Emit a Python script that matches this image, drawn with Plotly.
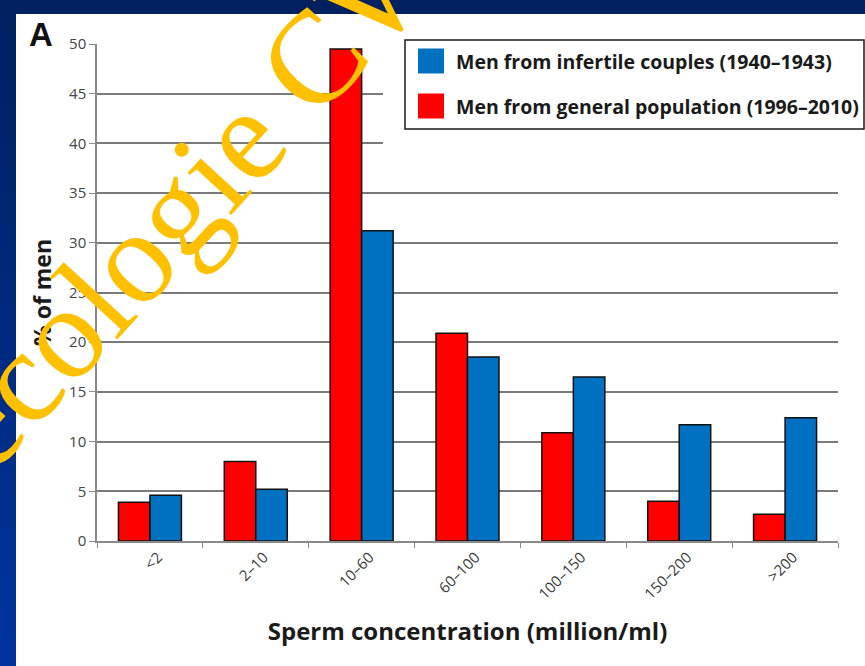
import plotly.graph_objects as go

# Sperm concentration classes (million/ml)
categories = ["<2", "2–10", "10–60", "60–100", "100–150", "150–200", ">200"]
# % of men in each class
general_population = [3.9, 8.0, 49.5, 20.9, 10.9, 4.0, 2.7]   # 1996–2010
infertile_couples = [4.6, 5.2, 31.2, 18.5, 16.5, 11.7, 12.4]   # 1940–1943
y_ticks = [0, 5, 10, 15, 20, 25, 30, 35, 40, 45, 50]

name_general = "Men from general population (1996–2010)"
name_infertile = "Men from infertile couples (1940–1943)"

RED = "#ff0000"
BLUE = "#0070c0"
FONT = "Open Sans"
W, H = 865, 666
ML, MR, MT, MB = 97, 27, 44, 125
PW, PH = W - ML - MR, H - MT - MB


def px(x):
    """page x (pixels) -> paper fraction"""
    return (x - ML) / PW


def py(y):
    """page y (pixels, from top) -> paper fraction"""
    return 1 - (y - MT) / PH


fig = go.Figure()
fig.add_trace(go.Bar(x=categories, y=general_population, name=name_general,
                     marker=dict(color=RED, line=dict(color="#111111", width=1.5))))
fig.add_trace(go.Bar(x=categories, y=infertile_couples, name=name_infertile,
                     marker=dict(color=BLUE, line=dict(color="#111111", width=1.5))))

shapes = []
# navy slide frame: dark top band, left band shading to brighter blue
n_bands = 24
c0, c1 = (0, 32, 96), (0, 52, 156)
for i in range(n_bands):
    t = i / (n_bands - 1)
    col = "rgb({},{},{})".format(*[round(a + (b - a) * t) for a, b in zip(c0, c1)])
    y0 = i * H / n_bands
    shapes.append(dict(type="rect", xref="paper", yref="paper", layer="below",
                       x0=px(-2), x1=px(17), y0=py(y0 - 1), y1=py(y0 + H / n_bands + 1),
                       fillcolor=col, line=dict(width=0)))
shapes.append(dict(type="rect", xref="paper", yref="paper", layer="below",
                   x0=px(-2), x1=px(W + 2), y0=py(-2), y1=py(14),
                   fillcolor="rgb(0,32,96)", line=dict(width=0)))
# white chart panel
shapes.append(dict(type="rect", xref="paper", yref="paper", layer="below",
                   x0=px(16), x1=px(W + 2), y0=py(14), y1=py(H + 2),
                   fillcolor="white", line=dict(width=0)))

# legend panel
shapes.append(dict(type="rect", xref="paper", yref="paper", layer="above",
                   x0=px(383), x1=px(W + 2), y0=py(28), y1=py(147),
                   fillcolor="white", line=dict(width=0)))
shapes.append(dict(type="rect", xref="paper", yref="paper", layer="above",
                   x0=px(405), x1=px(864), y0=py(40), y1=py(129),
                   fillcolor="white", line=dict(color="#1a1a1a", width=1.5)))
legend_rows = [(name_infertile, BLUE, 61), (name_general, RED, 106)]
annotations = []
for label, col, yc in legend_rows:
    shapes.append(dict(type="rect", xref="paper", yref="paper", layer="above",
                       x0=px(418), x1=px(444), y0=py(yc - 12.5), y1=py(yc + 12.5),
                       fillcolor=col, line=dict(width=0)))
    annotations.append(dict(xref="paper", yref="paper", x=px(454), y=py(yc),
                            xanchor="left", yanchor="middle", showarrow=False,
                            text=label,
                            font=dict(family=FONT, size=19.5, color="#1a1a1a", weight="bold")))

# panel letter
annotations.append(dict(xref="paper", yref="paper", x=px(41), y=py(34),
                        xanchor="center", yanchor="middle", showarrow=False, text="A",
                        font=dict(family="Liberation Sans", size=33, color="#111111",
                                  weight="bold")))
# site watermark
annotations.append(dict(xref="paper", yref="paper", x=px(192), y=py(191),
                        xanchor="center", yanchor="middle", showarrow=False,
                        text="écologie CW", textangle=-47.5,
                        font=dict(family="Liberation Serif", size=132, color="#ffc000")))

fig.update_layout(
    width=W, height=H,
    margin=dict(l=ML, r=MR, t=MT, b=MB, autoexpand=False),
    paper_bgcolor="white", plot_bgcolor="rgba(0,0,0,0)",
    barmode="group", bargap=0.405, bargroupgap=0,
    showlegend=False,
    shapes=shapes, annotations=annotations,
    font=dict(family=FONT, color="#333333"),
)
fig.update_xaxes(
    showline=True, linecolor="#8a8a8a", linewidth=1.5,
    ticks="outside", tickson="boundaries", ticklen=5, tickcolor="#8a8a8a",
    tickangle=-45, ticklabelshift=8,
    tickfont=dict(family=FONT, size=15, color="#3a3a3a"),
    showgrid=False,
    title=dict(text="Sperm concentration (million/ml)", standoff=21,
               font=dict(family=FONT, size=24, color="#1a1a1a", weight="bold")),
)
fig.update_yaxes(
    range=[0, 50], tickvals=y_ticks,
    showline=True, linecolor="#8a8a8a", linewidth=1.5,
    ticks="outside", ticklen=6, tickcolor="#8a8a8a",
    tickfont=dict(family=FONT, size=15, color="#444444"),
    showgrid=True, gridcolor="#7a7a7a", gridwidth=1.5,
    zeroline=False,
    title=dict(text="% of men", standoff=11,
               font=dict(family=FONT, size=23, color="#1a1a1a", weight="bold")),
)

fig.write_html("out.html")
